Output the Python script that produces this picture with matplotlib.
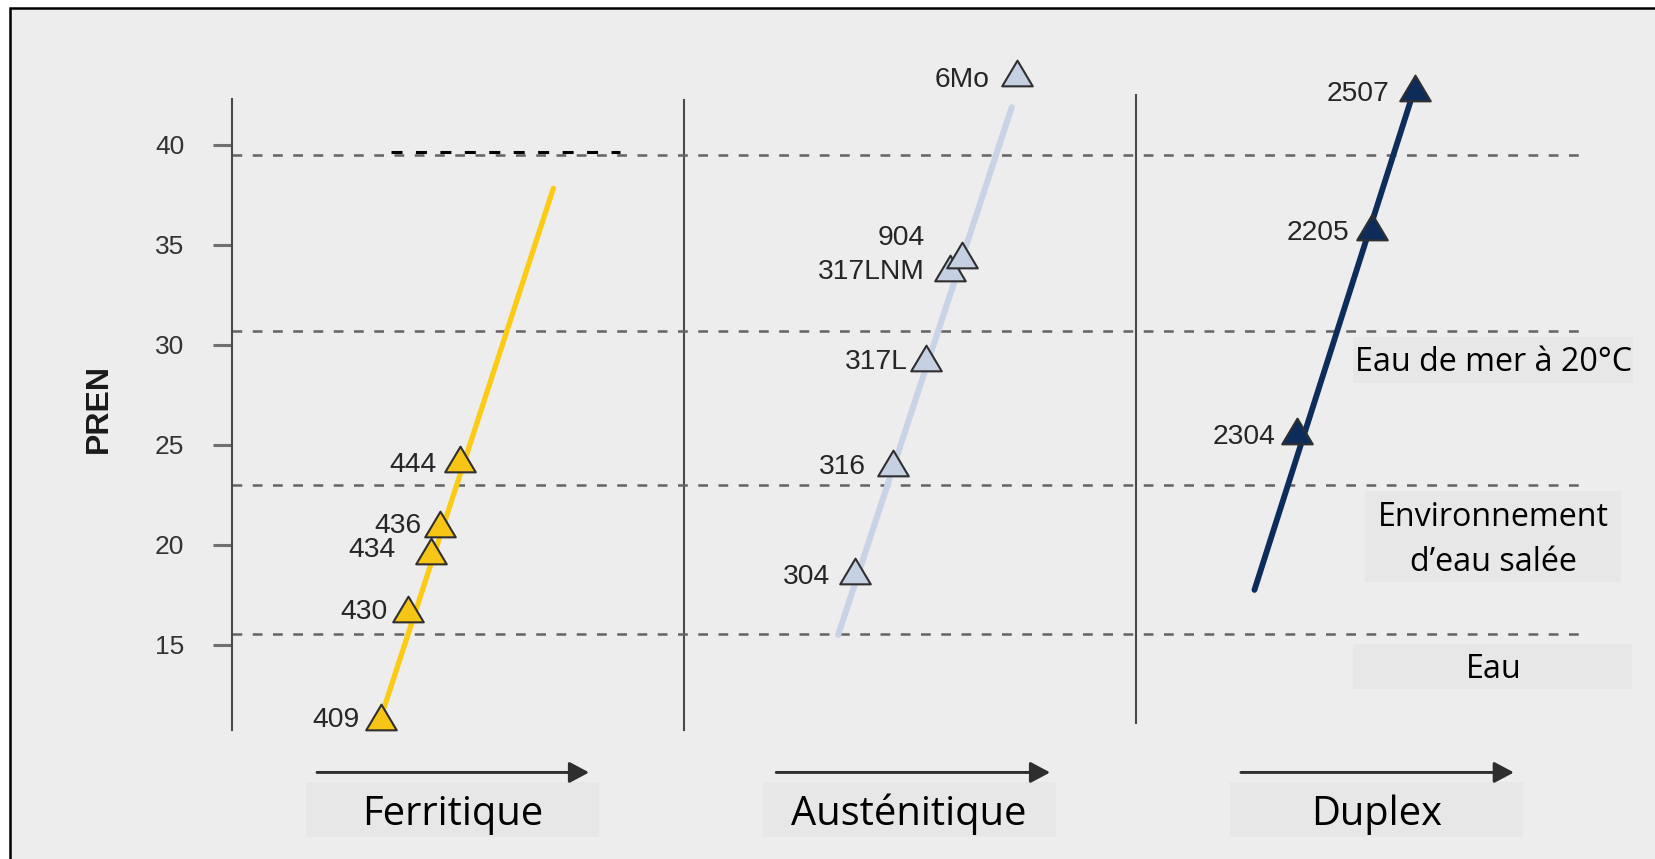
import matplotlib.pyplot as plt
from matplotlib.patches import Rectangle
from matplotlib.path import Path

# PREN values; x is the position inside each family panel
ferr_grades = ["409", "430", "434", "436", "444"]
ferr_x = [0.330, 0.390, 0.440, 0.461, 0.504]
ferr_pren = [11.4, 16.78, 19.7, 21.03, 24.28]
ferr_trend_x = [0.330, 0.711]
ferr_trend_pren = [11.4, 37.83]

aus_grades = ["304", "316", "317L", "317LNM", "904", "6Mo"]
aus_x = [1.378, 1.463, 1.535, 1.588, 1.614, 1.736]
aus_pren = [18.69, 24.11, 29.35, 33.85, 34.48, 43.61]
aus_trend_x = [1.341, 1.725]
aus_trend_pren = [15.49, 41.88]

dup_grades = ["2304", "2205", "2507"]
dup_x = [2.356, 2.523, 2.617]
dup_pren = [25.67, 35.87, 42.87]
dup_trend_x = [2.262, 2.617]
dup_trend_pren = [17.74, 42.87]

families = ["Ferritique", "Austénitique", "Duplex"]
zone_limits = [15.52, 23.0, 30.71, 39.5]
zones = ["Eau", "Environnement\nd’eau salée", "Eau de mer à 20°C"]
yticks = [15, 20, 25, 30, 35, 40]

BG = "#ecedec"
BOX = "#e7e7e7"
plt.rcParams["font.family"] = ["Liberation Sans", "DejaVu Sans"]

fig = plt.figure(figsize=(16.56, 8.59), dpi=100)
ax = fig.add_axes([10 / 1656, 0, 1646 / 1656, 851 / 859])
ax.set_facecolor(BG)
ax.set_xlim(-0.4912, 3.1504)
ax.set_ylim(4.28, 46.85)

# outer frame, only top and left edges are inside the picture
ax.add_patch(Rectangle((0, -0.1), 1.2, 1.1, transform=ax.transAxes, fill=False,
                       ec="black", lw=1.8, clip_on=False, zorder=10))

# left axis
for s in ["top", "right", "bottom"]:
    ax.spines[s].set_visible(False)
ax.spines["left"].set_position(("data", 0))
ax.spines["left"].set_bounds(10.73, 42.28)
ax.spines["left"].set_color("#4a4a4a")
ax.spines["left"].set_linewidth(1.5)
ax.set_xticks([])
ax.set_yticks(yticks)
ax.tick_params(axis="y", length=13.4, width=2.2, color="#707070", pad=21,
               labelsize=19, labelcolor="#333333")
ax.set_ylabel("PREN", fontsize=23, fontweight="bold", color="#1a1a1a")
ax.yaxis.set_label_coords(-0.262, 26.8, transform=ax.transData)

# panel separators
ax.plot([1, 1], [10.73, 42.23], color="#4a4a4a", lw=1.5)
ax.plot([2, 2], [11.07, 42.5], color="#4a4a4a", lw=1.5)

# environment limits
for lvl in zone_limits:
    ax.plot([0, 3], [lvl, lvl], color="#636363", lw=1.8, ls=(0, (3.9, 4.2)), zorder=2)
ax.plot([0.351, 0.859], [39.66, 39.66], color="black", lw=2.2, ls=(0, (3.6, 4.4)), zorder=2)

tri = Path([(-1, -0.84), (1, -0.84), (0, 0.84), (-1, -0.84)],
           [Path.MOVETO, Path.LINETO, Path.LINETO, Path.CLOSEPOLY])

series = [
    (ferr_grades, ferr_x, ferr_pren, ferr_trend_x, ferr_trend_pren, "#fccb14", "#f6c516", 3.8),
    (aus_grades, aus_x, aus_pren, aus_trend_x, aus_trend_pren, "#c9d3e6", "#c5d0e3", 4.4),
    (dup_grades, dup_x, dup_pren, dup_trend_x, dup_trend_pren, "#0c2c5c", "#0d2c5a", 4.2),
]

# label offsets in pixels (dx, dy up) from the marker centre
shift = {"409": (-22, 0), "430": (-21, 0), "434": (-35, 4), "436": (-19, 1.5), "444": (-23, -2.5),
         "304": (-25, -3), "316": (-27, -1), "317L": (-18, -1.5), "317LNM": (-25, -1.5),
         "904": (-37, 20), "6Mo": (-27, -4),
         "2304": (-21, -2.5), "2205": (-23, -2.5), "2507": (-26, -3)}

for grades, xs, ys, tx, ty, lc, fc, lw in series:
    ax.plot(tx, ty, color=lc, lw=lw, solid_capstyle="round", zorder=3)
    ax.plot(xs, ys, ls="none", marker=tri, ms=22, mfc=fc, mec="#2f2f2f", mew=1.5, zorder=4)
    for g, x, y in zip(grades, xs, ys):
        dx, dy = shift[g]
        ax.annotate(g, (x, y), xytext=(dx * 0.72, (dy - 10) * 0.72), textcoords="offset points",
                    ha="right", va="baseline", fontsize=20.3, color="#262626", zorder=5)

# family labels with arrows
fam_x = [0.488, 1.498, 2.532]
arrow_x = [(0.188, 0.790), (1.204, 1.810), (2.232, 2.836)]
for name, cx, (a0, a1) in zip(families, fam_x, arrow_x):
    ax.add_patch(Rectangle((cx - 0.324, 5.39), 0.648, 2.72, fc=BOX, ec="none", zorder=1))
    ax.text(cx, 5.98, name, ha="center", va="baseline", fontsize=28.7,
            family="Open Sans", color="black")
    ax.annotate("", xy=(a1, 8.61), xytext=(a0, 8.61),
                arrowprops=dict(arrowstyle="-|>,head_length=0.6,head_width=0.32",
                                mutation_scale=20, color="#2e2e2e", lw=2.1,
                                shrinkA=0, shrinkB=0))

# environment labels on the right
zone_boxes = [(2.479, 12.77, 0.619, 2.25), (2.507, 18.15, 0.566, 4.55), (2.480, 28.11, 0.619, 2.30)]
zone_base = [[13.32], [20.94, 18.70], [28.69]]
for txt, (bx, by, bw, bh), bases in zip(zones, zone_boxes, zone_base):
    ax.add_patch(Rectangle((bx, by), bw, bh, fc=BOX, ec="none", zorder=1))
    for line, b in zip(txt.split("\n"), bases):
        ax.text(2.791, b, line, ha="center", va="baseline", fontsize=23.2,
                family="Open Sans", color="black")

fig.savefig("out.png", dpi=100, facecolor="white")
